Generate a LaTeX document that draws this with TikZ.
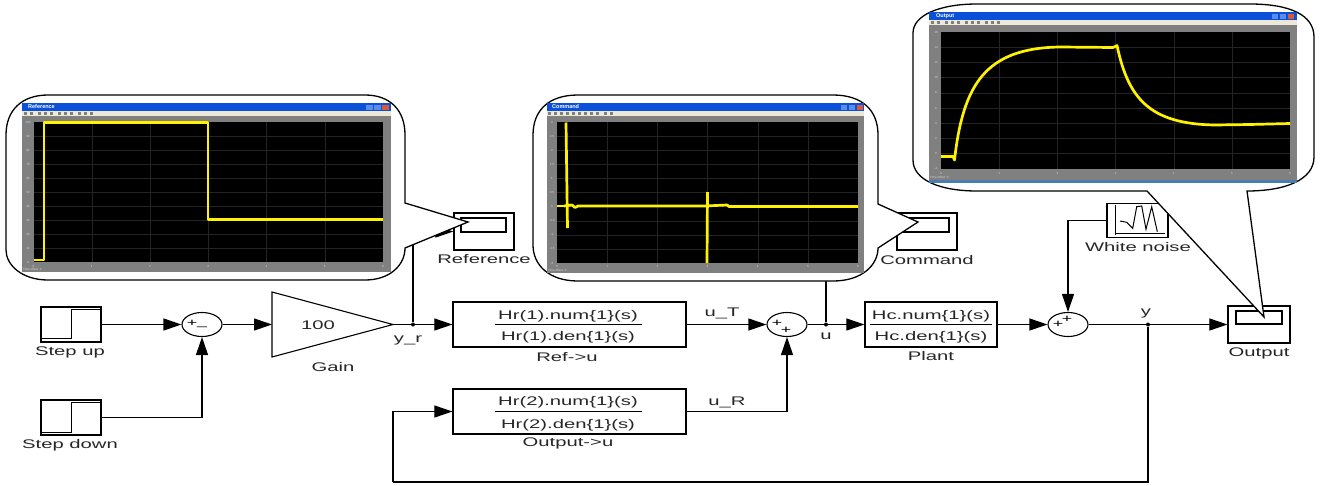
\documentclass[tikz,border=0pt]{standalone}
\usepackage{fontspec}
\setmainfont[FakeStretch=1.62]{Liberation Sans}
\newfontfamily\winfont{Liberation Sans}
\usetikzlibrary{arrows.meta,shapes.geometric}
\definecolor{winblue}{HTML}{0A50D8}
\definecolor{winbar}{HTML}{ECE9D8}
\definecolor{wingray}{HTML}{808080}
\definecolor{winclose}{HTML}{D8583A}
\definecolor{winbtn}{HTML}{5A8CE8}
\definecolor{winstrip}{HTML}{4A7CB0}
\tikzset{
  blockbox/.style={draw,line width=1.2pt,inner sep=0pt,fill=white},
  sumnode/.style={draw,ellipse,line width=1.1pt,minimum width=40pt,minimum height=24pt,inner sep=0pt},
  lbl/.style={inner sep=0pt,font=\fontsize{12.5}{14}\selectfont,text=black!85},
  sgn/.style={inner sep=0pt,font=\fontsize{11}{11}\selectfont},
  dotnode/.style={circle,fill=black,inner sep=0pt,minimum size=4pt},
  sig/.style={line width=1.1pt,-{Triangle[length=18pt,width=12pt]}},
  wire/.style={line width=1.1pt},
  callout/.style={draw,fill=white,line width=1.3pt,line join=miter},
  ttl/.style={inner sep=0pt,anchor=west,text=white,font=\winfont\fontsize{5.5}{6}\selectfont\bfseries},
  tick/.style={inner sep=0pt,text=white!85!black,font=\winfont\fontsize{3}{3}\selectfont},
  gridline/.style={white!14!black,line width=0.3pt},
  trace/.style={yellow,line width=2.7pt,line join=round}
}
\begin{document}
\begin{tikzpicture}[x=1pt,y=-1pt]
\useasboundingbox (0,0) rectangle (1324,485);
% Sources
\node[blockbox,minimum width=60pt,minimum height=35pt] (stepup) at (71,324.5) {};
\draw[line width=1pt] (42,338) -- (71,338) -- (71,309) -- (100,309);
\node[lbl] (stepuplbl) at (70,352) {Step up};
\node[blockbox,minimum width=60pt,minimum height=35pt] (stepdown) at (71,417.5) {};
\draw[line width=1pt] (42,432) -- (71,432) -- (71,402) -- (100,402);
\node[lbl] (stepdownlbl) at (70,445) {Step down};

% Reference path
\node[sumnode] (sumerr) at (202,324.5) {};
\node[sgn] (sumerrp) at (192,323) {+};
\node[sgn] (sumerrm) at (202,327) {\_};
\draw[line width=1.1pt] (272,292) -- (272,357) -- (393,324.5) -- cycle;
\coordinate (gainin) at (272,324.5);
\coordinate (gainout) at (393,324.5);
\node[lbl] (gainval) at (318,325) {100};
\node[lbl] (gainlbl) at (333,367) {Gain};
\node[dotnode] (dotr) at (413,324.5) {};
\node[lbl] (yrlbl) at (408,340) {y\_r};

% Controller blocks
\node[blockbox,minimum width=233pt,minimum height=45pt] (reftf) at (569.5,324.5) {};
\coordinate (reftfa) at (495,324.5);
\coordinate (reftfb) at (642,324.5);
\draw[wire] (reftfa) -- (reftfb);
\node[lbl] (reftfnum) at (568,316) {Hr(1).num\{1\}(s)};
\node[lbl] (reftfden) at (568,337) {Hr(1).den\{1\}(s)};
\node[lbl] (reftflbl) at (567,357) {Ref->u};
\node[blockbox,minimum width=233pt,minimum height=45pt] (outtf) at (569.5,411.5) {};
\coordinate (outtfa) at (495,411.5);
\coordinate (outtfb) at (642,411.5);
\draw[wire] (outtfa) -- (outtfb);
\node[lbl] (outtfnum) at (568,402) {Hr(2).num\{1\}(s)};
\node[lbl] (outtfden) at (568,425) {Hr(2).den\{1\}(s)};
\node[lbl] (outtflbl) at (568,443) {Output->u};
\node[lbl] (utlbl) at (722,313) {u\_T};
\node[lbl] (urlbl) at (727,402) {u\_R};

% Plant side
\node[sumnode] (sumu) at (787,324.5) {};
\node[sgn] (sumup) at (777,323) {+};
\node[sgn] (sumuq) at (786,330) {+};
\node[dotnode] (dotu) at (826,324.5) {};
\node[lbl] (ulbl) at (826,336) {u};
\node[blockbox,minimum width=132pt,minimum height=45pt] (plant) at (931,324.5) {};
\coordinate (planta) at (870,324.5);
\coordinate (plantb) at (992,324.5);
\draw[wire] (planta) -- (plantb);
\node[lbl] (plantnum) at (931,316) {Hc.num\{1\}(s)};
\node[lbl] (plantden) at (931,337) {Hc.den\{1\}(s)};
\node[lbl] (plantlbl) at (931,356) {Plant};
\node[sumnode] (sumy) at (1068,324.5) {};
\node[sgn] (sumyp) at (1058,324) {+};
\node[sgn] (sumyq) at (1067,319) {+};
\node[dotnode] (doty) at (1148,324.5) {};
\node[lbl] (ylbl) at (1146,313) {y};
\coordinate (fbright) at (1148,482);
\coordinate (fbleft) at (393,482);

% White noise source
\node[blockbox,minimum width=61pt,minimum height=34pt] (noise) at (1137.5,220.5) {};
\draw[line width=1pt] (1115,205) -- (1115,235);
\draw[line width=1pt] (1115,233) -- (1165,233);
\draw[line width=1pt] (1120,221) -- (1126.7,222.3) -- (1132.7,228.3) -- (1136.7,206.7) -- (1141.7,206) -- (1146,229.3) -- (1151.7,206.7) -- (1157.3,231.7);
\node[lbl] (noiselbl) at (1138,247) {White noise};

% Scopes
\node[blockbox,minimum width=60pt,minimum height=37pt] (refscope) at (484,231.5) {};
\node[blockbox,minimum width=45pt,minimum height=14pt] (refscreen) at (483.5,225) {};
\node[lbl] (refscopelbl) at (484,259) {Reference};
\node[blockbox,minimum width=60pt,minimum height=37pt] (cmdscope) at (927,231.5) {};
\node[blockbox,minimum width=46pt,minimum height=14pt] (cmdscreen) at (926,225) {};
\node[lbl] (cmdscopelbl) at (927,260) {Command};
\node[blockbox,minimum width=62pt,minimum height=37pt] (outscope) at (1259,324.5) {};
\node[blockbox,minimum width=46pt,minimum height=13pt] (outscreen) at (1259,317.5) {};
\node[lbl] (outscopelbl) at (1259,353) {Output};

% Connectors
\draw[sig] (stepup) -- (sumerr);
\draw[sig] (stepdown) -| (sumerr);
\draw[sig] (sumerr) -- (gainin);
\draw[wire] (gainout) -- (dotr);
\draw[sig] (dotr) -- (reftf);
\draw[sig] (dotr) |- (refscope);
\draw[sig] (reftf) -- (sumu);
\draw[sig] (outtf) -| (sumu);
\draw[wire] (sumu) -- (dotu);
\draw[sig] (dotu) -- (plant);
\draw[sig] (dotu) |- (cmdscope);
\draw[sig] (plant) -- (sumy);
\draw[sig] (noise) -| (sumy);
\draw[wire] (sumy) -- (doty);
\draw[sig] (doty) -- (outscope);
\draw[wire] (doty) -- (fbright) -- (fbleft);
\draw[sig] (fbleft) |- (outtf);

% Reference callout
\draw[callout] (48,95) -- (365,95) .. controls (390,95) and (405,110) .. (405,135) -- (405,203) -- (468,222) -- (405,248) .. controls (405,265) and (390,280) .. (365,280) -- (48,280) .. controls (22,280) and (6,265) .. (6,250) -- (6,135) .. controls (6,110) and (22,95) .. (48,95) -- cycle;
\fill[wingray] (22,103) rectangle (391,272);
\fill[winbar] (22,111) rectangle (391,116);
\fill[winblue] (22,103) rectangle (391,111);
\fill[black] (33.5,122) rectangle (383,262);
\foreach \i in {1,...,5} \draw[gridline] (33.5+58.25*\i,122) -- (33.5+58.25*\i,262);
\foreach \i in {1,...,9} \draw[gridline] (33.5,122+14*\i) -- (383,122+14*\i);
\foreach \i [evaluate=\i as \v using int(100-10*\i)] in {0,...,10} \node[tick] at (28,122+14*\i) {\v};
\foreach \i in {0,...,6} \node[tick] at (33.5+58.25*\i,266) {\i};
\node[ttl] (refwintitle) at (28,107) {Reference};
\foreach \bx/\bc in {366/winbtn,374/winbtn,382/winclose} \fill[\bc] (\bx,104.5) rectangle +(6.5,5.5);
\foreach \bx in {24,30,38,44,50,58,64,70,78,84,90} \fill[gray] (\bx,112) rectangle +(3,3);
\node[tick,anchor=west] (refwinoff) at (23,269.5) {Time offset: 0};
\draw[trace] (33.5,260) -- (44,260) -- (44,122.5) -- (208,122.5) -- (208,219.5) -- (383,219.5);

% Command callout
\draw[callout] (578,95) -- (833,95) .. controls (862,95) and (878,110) .. (878,135) -- (878,204) -- (918,222) -- (878,248) .. controls (878,265) and (862,281) .. (833,281) -- (578,281) .. controls (549,281) and (533,265) .. (533,245) -- (533,135) .. controls (533,110) and (549,95) .. (578,95) -- cycle;
\fill[wingray] (547,103) rectangle (864,273);
\fill[winbar] (547,111) rectangle (864,116);
\fill[winblue] (547,103) rectangle (864,111);
\fill[black] (557,122) rectangle (858,263);
\foreach \i in {1,...,5} \draw[gridline] (557+50.17*\i,122) -- (557+50.17*\i,263);
\foreach \i in {1,...,9} \draw[gridline] (557,122+14.1*\i) -- (858,122+14.1*\i);
\foreach \v [count=\i from 0] in {3,2.5,2,1.5,1,0.5,0,-0.5,-1,-1.5,-2} \node[tick] at (552,122+14.1*\i) {\v};
\foreach \i in {0,...,6} \node[tick] at (557+50.17*\i,266.5) {\i};
\node[ttl] (cmdwintitle) at (552,107) {Command};
\foreach \bx/\bc in {841/winbtn,849/winbtn,857/winclose} \fill[\bc] (\bx,104.5) rectangle +(6,5.5);
\foreach \bx in {548,554,560,566,572,578,584,590,596,604,610} \fill[gray] (\bx,112) rectangle +(3,3);
\node[tick,anchor=west] (cmdwinoff) at (548,270.5) {Time offset: 0};
\draw[trace] (557,206) -- (564,206);
\draw[trace] (566,122.5) -- (567.5,228);
\draw[trace] (564,206) -- (572,205) -- (575,207.5) -- (578,206) -- (704,206) -- (727,205) -- (729,206.5) -- (858,206.5);
\draw[trace] (707.5,192) -- (707,263);

% Output callout
\draw[callout] (977,4) -- (1250,4) .. controls (1290,4) and (1314,15) .. (1314,37) -- (1314,157) .. controls (1314,180) and (1285,191) .. (1247,191) -- (1264,317) -- (1147,191) -- (977,191) .. controls (940,191) and (913,180) .. (913,160) -- (913,33) .. controls (913,15) and (940,4) .. (977,4) -- cycle;
\fill[wingray] (929,12) rectangle (1297,180);
\fill[winstrip] (929,180) rectangle (1297,183);
\fill[winbar] (929,20) rectangle (1297,25);
\fill[winblue] (929,12) rectangle (1297,20);
\fill[black] (941,32) rectangle (1290,169);
\foreach \i in {1,...,5} \draw[gridline] (941+58.2*\i,32) -- (941+58.2*\i,169);
\foreach \i in {1,...,8} \draw[gridline] (941,32+15.2*\i) -- (1290,32+15.2*\i);
\foreach \v [count=\i from 0] in {16,14,12,10,8,6,4,2,0,-2} \node[tick] at (936,32+15.2*\i) {\v};
\foreach \i in {0,...,6} \node[tick] at (941+58.2*\i,173) {\i};
\node[ttl] (outwintitle) at (936,16) {Output};
\foreach \bx/\bc in {1272/winbtn,1280/winbtn,1288/winclose} \fill[\bc] (\bx,13.5) rectangle +(6,5.5);
\foreach \bx in {931,937,945,951,957,965,971,977,985,991,997} \fill[gray] (\bx,21) rectangle +(3,3);
\node[tick,anchor=west] (outwinoff) at (930,177.5) {Time offset: 0};
\draw[trace] (941,156.5) -- (953,156.5) -- (954.5,160) .. controls (963,85) and (985,48) .. (1060,47) -- (1113,47.5) -- (1117,45.5) .. controls (1128,97) and (1148,124) .. (1215,125) -- (1250,124.5) -- (1290,123.5);
\end{tikzpicture}
\end{document}
